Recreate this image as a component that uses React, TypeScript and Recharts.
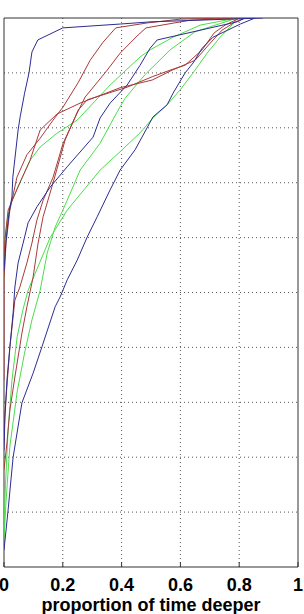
import React from "react";
import { LineChart, Line, XAxis, YAxis, CartesianGrid, ReferenceArea } from "recharts";

// proportion of time deeper (p) vs depth step (d)
const blue1 = [
  { p: 0.88, d: 0 }, { p: 0.5, d: 0.07 }, { p: 0.395, d: 0.11 }, { p: 0.2, d: 0.18 },
  { p: 0.115, d: 0.4 }, { p: 0.095, d: 0.62 }, { p: 0.085, d: 1.0 }, { p: 0.07, d: 1.37 },
  { p: 0.055, d: 1.8 }, { p: 0.048, d: 2.04 }, { p: 0.03, d: 2.9 }, { p: 0.027, d: 3.26 },
  { p: 0.017, d: 3.55 }, { p: 0.007, d: 4.04 }, { p: 0, d: 4.6 },
];
const blue2 = [
  { p: 0.82, d: 0 }, { p: 0.793, d: 0.07 }, { p: 0.521, d: 0.4 }, { p: 0.497, d: 0.55 },
  { p: 0.463, d: 0.86 }, { p: 0.419, d: 1.22 }, { p: 0.361, d: 1.55 }, { p: 0.327, d: 1.82 },
  { p: 0.303, d: 2.17 }, { p: 0.215, d: 2.71 }, { p: 0.157, d: 3.08 }, { p: 0.112, d: 3.44 },
  { p: 0.082, d: 3.73 }, { p: 0.065, d: 4.1 }, { p: 0.048, d: 4.46 }, { p: 0.037, d: 4.9 },
  { p: 0.031, d: 5.37 }, { p: 0.02, d: 5.99 }, { p: 0.01, d: 6.6 }, { p: 0.003, d: 7.3 },
  { p: 0, d: 7.87 },
];
const blue3 = [
  { p: 0.854, d: 0 }, { p: 0.804, d: 0.11 }, { p: 0.711, d: 0.35 }, { p: 0.674, d: 0.55 },
  { p: 0.643, d: 0.82 }, { p: 0.616, d: 1.0 }, { p: 0.575, d: 1.37 }, { p: 0.555, d: 1.58 },
  { p: 0.507, d: 1.8 }, { p: 0.446, d: 2.4 }, { p: 0.395, d: 2.77 }, { p: 0.361, d: 3.13 },
  { p: 0.317, d: 3.62 }, { p: 0.283, d: 3.99 }, { p: 0.249, d: 4.41 }, { p: 0.215, d: 4.77 },
  { p: 0.191, d: 5.08 }, { p: 0.174, d: 5.26 }, { p: 0.129, d: 5.99 }, { p: 0.099, d: 6.47 },
  { p: 0.061, d: 7.01 }, { p: 0.031, d: 8.0 }, { p: 0.014, d: 8.96 }, { p: 0, d: 9.69 },
];
const red1 = [
  { p: 0.77, d: 0 }, { p: 0.6, d: 0.02 }, { p: 0.487, d: 0.09 }, { p: 0.38, d: 0.18 },
  { p: 0.337, d: 0.44 }, { p: 0.293, d: 0.77 }, { p: 0.252, d: 1.18 }, { p: 0.201, d: 1.62 },
  { p: 0.167, d: 1.86 }, { p: 0.123, d: 2.19 }, { p: 0.078, d: 2.49 }, { p: 0.044, d: 2.9 },
  { p: 0.02, d: 3.5 }, { p: 0.007, d: 4.1 }, { p: 0, d: 4.77 }, { p: 0, d: 6.6 },
];
const red2 = [
  { p: 0.8, d: 0 }, { p: 0.633, d: 0.04 }, { p: 0.483, d: 0.18 }, { p: 0.456, d: 0.31 },
  { p: 0.395, d: 0.64 }, { p: 0.351, d: 0.95 }, { p: 0.276, d: 1.44 }, { p: 0.249, d: 1.73 },
  { p: 0.201, d: 2.28 }, { p: 0.167, d: 2.9 }, { p: 0.133, d: 3.32 }, { p: 0.112, d: 3.68 },
  { p: 0.095, d: 4.1 }, { p: 0.078, d: 4.46 }, { p: 0.054, d: 4.9 }, { p: 0.037, d: 5.14 },
  { p: 0.02, d: 6.0 }, { p: 0.003, d: 7.2 }, { p: 0, d: 7.7 },
];
const red3 = [
  { p: 0.8, d: 0 }, { p: 0.787, d: 0.04 }, { p: 0.752, d: 0.13 }, { p: 0.715, d: 0.27 },
  { p: 0.674, d: 0.58 }, { p: 0.616, d: 0.86 }, { p: 0.565, d: 0.95 }, { p: 0.504, d: 1.07 },
  { p: 0.419, d: 1.26 }, { p: 0.283, d: 1.49 }, { p: 0.252, d: 1.68 }, { p: 0.208, d: 2.22 },
  { p: 0.167, d: 3.0 }, { p: 0.133, d: 3.62 }, { p: 0.116, d: 4.1 }, { p: 0.099, d: 4.72 },
  { p: 0.078, d: 5.26 }, { p: 0.061, d: 5.74 }, { p: 0.037, d: 6.54 }, { p: 0.02, d: 7.14 },
  { p: 0.01, d: 7.74 }, { p: 0, d: 8.23 },
];
const red4 = [
  { p: 0.82, d: 0 }, { p: 0.787, d: 0.07 }, { p: 0.742, d: 0.22 }, { p: 0.701, d: 0.46 },
  { p: 0.65, d: 0.77 }, { p: 0.572, d: 0.95 }, { p: 0.504, d: 1.13 }, { p: 0.395, d: 1.27 },
  { p: 0.259, d: 1.55 }, { p: 0.18, d: 1.75 }, { p: 0.123, d: 2.04 }, { p: 0.088, d: 2.6 },
  { p: 0.054, d: 3.0 }, { p: 0.014, d: 3.5 }, { p: 0.003, d: 4.04 }, { p: 0, d: 4.4 },
];
const green1 = [
  { p: 0.793, d: 0 }, { p: 0.77, d: 0.16 }, { p: 0.735, d: 0.35 }, { p: 0.691, d: 0.64 },
  { p: 0.643, d: 1.0 }, { p: 0.599, d: 1.31 }, { p: 0.555, d: 1.58 }, { p: 0.507, d: 1.82 },
  { p: 0.463, d: 2.09 }, { p: 0.402, d: 2.4 }, { p: 0.327, d: 2.77 }, { p: 0.215, d: 3.5 },
  { p: 0.157, d: 4.0 }, { p: 0.082, d: 4.96 }, { p: 0.065, d: 5.3 }, { p: 0.045, d: 5.8 },
  { p: 0.027, d: 6.6 }, { p: 0.014, d: 7.5 }, { p: 0.005, d: 8.5 }, { p: 0, d: 9.2 },
];
const green2 = [
  { p: 0.793, d: 0 }, { p: 0.667, d: 0.13 }, { p: 0.575, d: 0.35 }, { p: 0.497, d: 0.58 },
  { p: 0.463, d: 0.71 }, { p: 0.361, d: 1.22 }, { p: 0.249, d: 1.86 }, { p: 0.18, d: 2.1 },
  { p: 0.123, d: 2.35 }, { p: 0.089, d: 2.59 }, { p: 0.054, d: 3.0 }, { p: 0.027, d: 3.32 },
  { p: 0.014, d: 3.59 }, { p: 0.003, d: 4.04 }, { p: 0, d: 4.77 },
];
const green3 = [
  { p: 0.793, d: 0 }, { p: 0.65, d: 0.25 }, { p: 0.565, d: 0.58 }, { p: 0.48, d: 1.03 },
  { p: 0.412, d: 1.46 }, { p: 0.388, d: 1.68 }, { p: 0.327, d: 2.28 }, { p: 0.259, d: 2.77 },
  { p: 0.215, d: 3.32 }, { p: 0.2, d: 3.5 }, { p: 0.174, d: 3.81 }, { p: 0.147, d: 4.28 },
  { p: 0.123, d: 4.96 }, { p: 0.095, d: 5.5 }, { p: 0.07, d: 6.1 }, { p: 0.045, d: 6.8 },
  { p: 0.02, d: 7.8 }, { p: 0.007, d: 8.8 }, { p: 0, d: 9.5 },
];

const xTicks = [0, 0.2, 0.4, 0.6, 0.8, 1];
const yTicks = [0, 1, 2, 3, 4, 5, 6, 7, 8, 9, 10];
const xGrid = [0.2, 0.4, 0.6, 0.8];
const yGrid = [1, 2, 3, 4, 5, 6, 7, 8, 9];

const BLUE = "#2c2c94";
const RED = "#a83a3a";
const GREEN = "#4ade4a";
const AXIS = "#333";
const font = "'Liberation Sans', Arial, sans-serif";

const series = [
  { id: "g1", data: green1, color: GREEN },
  { id: "g2", data: green2, color: GREEN },
  { id: "g3", data: green3, color: GREEN },
  { id: "r1", data: red1, color: RED },
  { id: "r2", data: red2, color: RED },
  { id: "r3", data: red3, color: RED },
  { id: "r4", data: red4, color: RED },
  { id: "b1", data: blue1, color: BLUE },
  { id: "b2", data: blue2, color: BLUE },
  { id: "b3", data: blue3, color: BLUE },
];

// inward tick marks, MATLAB style
const BottomTick = (props: any) => {
  const { x, y, payload } = props;
  return (
    <g>
      <line x1={x} y1={y} x2={x} y2={y - 5} stroke={AXIS} />
      <text x={x} y={y + 24} textAnchor="middle" fontFamily={font} fontWeight="bold" fontSize={18} fill="#000">
        {String(payload.value)}
      </text>
    </g>
  );
};
const TopTick = (props: any) => <line x1={props.x} y1={props.y} x2={props.x} y2={props.y + 5} stroke={AXIS} />;
const LeftTick = (props: any) => <line x1={props.x} y1={props.y} x2={props.x + 5} y2={props.y} stroke={AXIS} />;
const RightTick = (props: any) => <line x1={props.x} y1={props.y} x2={props.x - 5} y2={props.y} stroke={AXIS} />;

export default function App() {
  return (
    <div style={{ position: "absolute", left: 0, top: 0, background: "#fff" }}>
      <LineChart width={304} height={614} margin={{ top: 18, right: 6, bottom: 0, left: 4 }}>
        <CartesianGrid stroke="#555" strokeDasharray="1 3" verticalValues={xGrid} horizontalValues={yGrid} />
        <ReferenceArea x1={0} x2={1} y1={0} y2={10} fill="none" stroke={AXIS} strokeWidth={1} ifOverflow="visible" />
        <XAxis
          type="number"
          dataKey="p"
          domain={[0, 1]}
          ticks={xTicks}
          allowDataOverflow
          height={47}
          tickSize={0}
          tickMargin={0}
          tickLine={false}
          axisLine={false}
          tick={<BottomTick />}
          interval={0}
          label={{
            value: "proportion of time deeper",
            position: "insideBottom",
            offset: 3,
            style: { fontFamily: font, fontWeight: "bold", fontSize: 18, fill: "#000" },
          }}
        />
        <XAxis
          xAxisId="top"
          orientation="top"
          type="number"
          dataKey="p"
          domain={[0, 1]}
          ticks={xTicks}
          allowDataOverflow
          height={0}
          tickSize={0}
          tickMargin={0}
          tickLine={false}
          axisLine={false}
          tick={<TopTick />}
          interval={0}
        />
        <YAxis
          type="number"
          domain={[0, 10]}
          ticks={yTicks}
          reversed
          allowDataOverflow
          width={0}
          tickSize={0}
          tickMargin={0}
          tickLine={false}
          axisLine={false}
          tick={<LeftTick />}
          interval={0}
        />
        <YAxis
          yAxisId="right"
          orientation="right"
          type="number"
          domain={[0, 10]}
          ticks={yTicks}
          reversed
          allowDataOverflow
          width={0}
          tickSize={0}
          tickMargin={0}
          tickLine={false}
          axisLine={false}
          tick={<RightTick />}
          interval={0}
        />
        {series.map((s) => (
          <Line
            key={s.id}
            data={s.data}
            dataKey="d"
            type="linear"
            stroke={s.color}
            strokeWidth={1}
            dot={false}
            isAnimationActive={false}
          />
        ))}
      </LineChart>
    </div>
  );
}
